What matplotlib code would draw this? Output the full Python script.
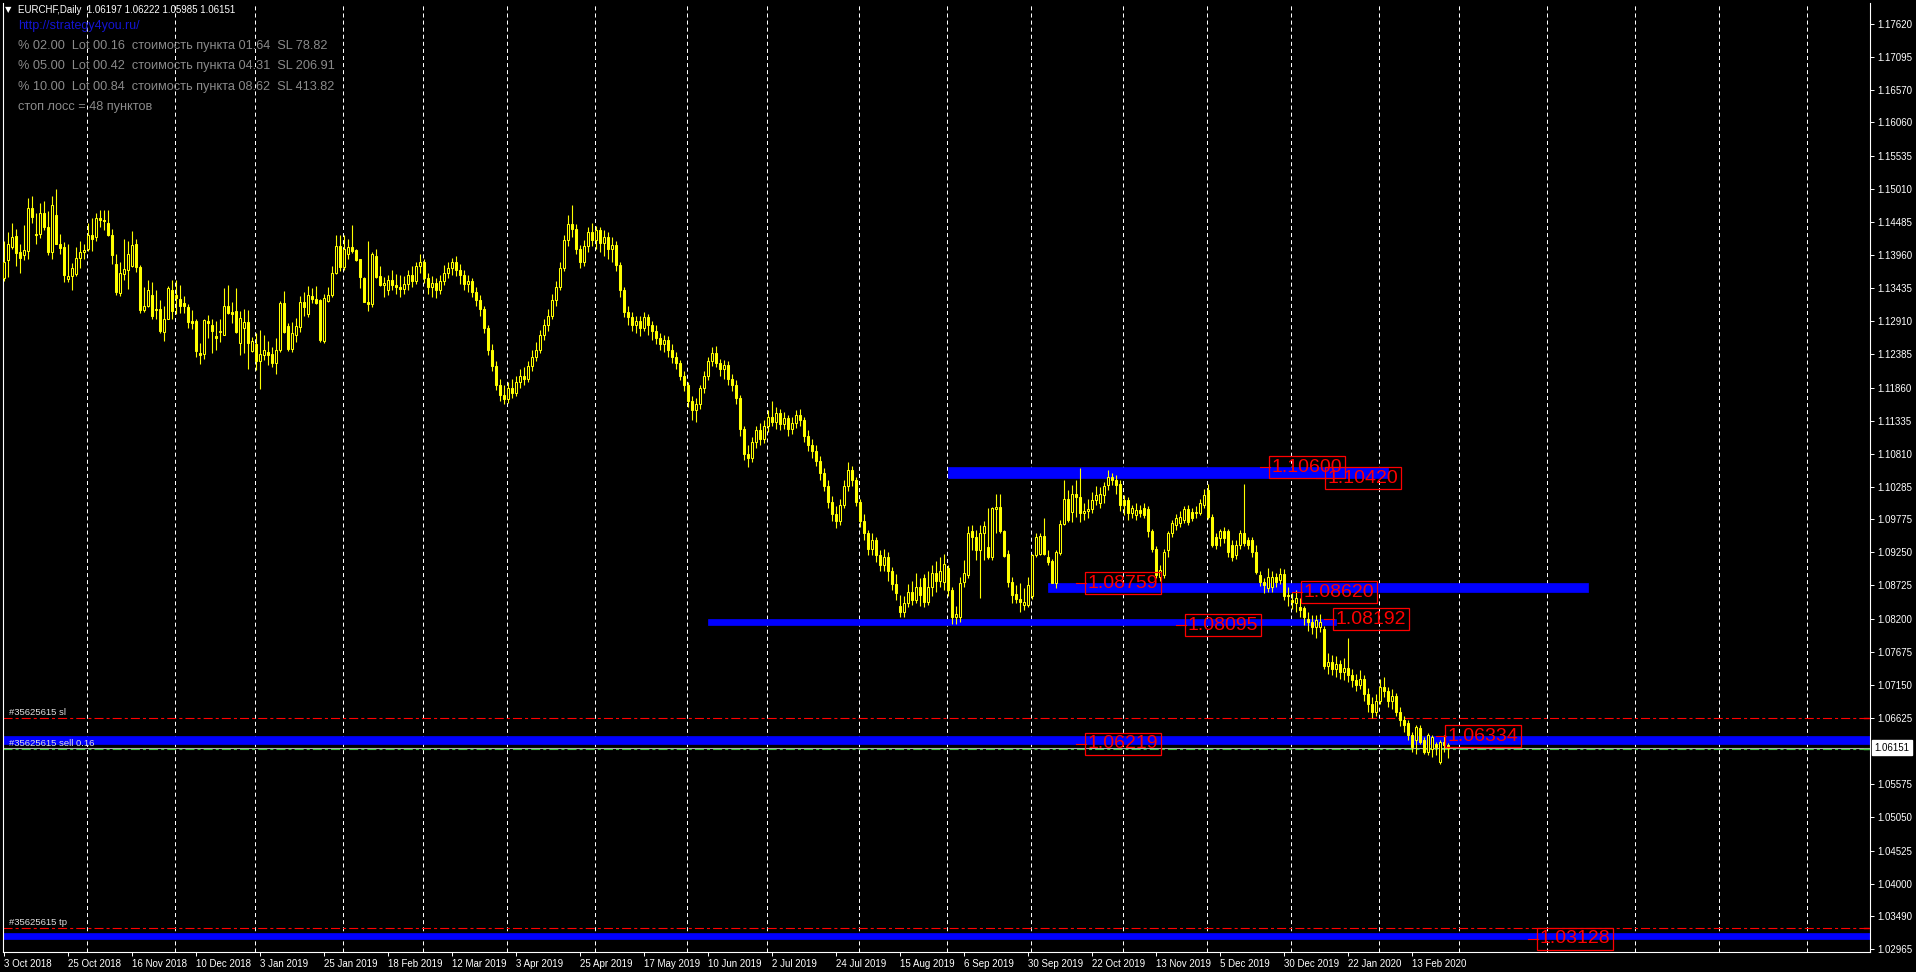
import matplotlib
matplotlib.use("Agg")
import matplotlib.pyplot as plt
from matplotlib.patches import Rectangle
from matplotlib.collections import LineCollection
from matplotlib import font_manager
import matplotlib.transforms as mtransforms
import pandas as pd

plt.rcParams['lines.scale_dashes'] = False

def has_font(name):
    try:
        font_manager.findfont(font_manager.FontProperties(family=name), fallback_to_default=False)
        return True
    except Exception:
        return False

BASE = 'Liberation Sans'
NARROW = 'Liberation Sans Narrow' if has_font('Liberation Sans Narrow') else BASE

# ---------------- data (daily EURCHF, one value per bar) ----------------
opens = [1.1359,1.1388,1.1409,1.1426,1.1400,1.1396,1.1403,1.1470,1.1429,1.1430,
         1.1463,1.1441,1.1401,1.1460,1.1414,1.1409,1.1358,1.1363,1.1366,1.1392,
         1.1401,1.1405,1.1427,1.1425,1.1454,1.1452,1.1446,1.1428,1.1382,1.1336,
         1.1366,1.1373,1.1378,1.1413,1.1377,1.1309,1.1315,1.1333,1.1310,1.1310,
         1.1274,1.1295,1.1341,1.1332,1.1327,1.1320,1.1313,1.1291,1.1291,1.1240,
         1.1239,1.1291,1.1285,1.1267,1.1274,1.1270,1.1315,1.1305,1.1308,1.1256,
         1.1281,1.1290,1.1244,1.1255,1.1228,1.1238,1.1243,1.1239,1.1225,1.1246,
         1.1320,1.1283,1.1247,1.1270,1.1282,1.1321,1.1302,1.1331,1.1326,1.1324,
         1.1260,1.1323,1.1332,1.1367,1.1411,1.1377,1.1398,1.1409,1.1404,1.1389,
         1.1360,1.1322,1.1319,1.1395,1.1363,1.1348,1.1341,1.1357,1.1349,1.1346,
         1.1342,1.1350,1.1365,1.1355,1.1378,1.1385,1.1360,1.1345,1.1352,1.1340,
         1.1355,1.1368,1.1375,1.1385,1.1372,1.1365,1.1350,1.1355,1.1338,1.1325,
         1.1310,1.1280,1.1245,1.1220,1.1190,1.1175,1.1168,1.1185,1.1178,1.1195,
         1.1205,1.1200,1.1220,1.1235,1.1245,1.1270,1.1285,1.1300,1.1325,1.1345,
         1.1375,1.1420,1.1445,1.1438,1.1405,1.1385,1.1410,1.1432,1.1420,1.1435,
         1.1415,1.1425,1.1405,1.1412,1.1380,1.1340,1.1305,1.1298,1.1285,1.1292,
         1.1280,1.1298,1.1285,1.1275,1.1265,1.1255,1.1262,1.1245,1.1235,1.1225,
         1.1205,1.1190,1.1165,1.1150,1.1160,1.1185,1.1205,1.1228,1.1240,1.1225,
         1.1215,1.1222,1.1200,1.1190,1.1170,1.1120,1.1080,1.1075,1.1100,1.1118,
         1.1105,1.1125,1.1140,1.1132,1.1145,1.1128,1.1138,1.1120,1.1130,1.1142,
         1.1135,1.1110,1.1095,1.1085,1.1070,1.1050,1.1030,1.1005,1.0985,1.0975,
         1.1000,1.1030,1.1055,1.1040,1.1005,1.0975,1.0955,1.0930,1.0945,1.0920,
         1.0905,1.0918,1.0895,1.0875,1.0840,1.0830,1.0845,1.0862,1.0850,1.0870,
         1.0885,1.0846,1.0870,1.0892,1.0880,1.0878,1.0900,1.0865,1.0823,1.0823,
         1.0878,1.0889,1.0958,1.0950,1.0929,1.0955,1.0934,1.0918,1.0993,1.0996,
         1.0958,1.0922,1.0878,1.0859,1.0851,1.0841,1.0841,1.0855,1.0921,1.0923,
         1.0951,1.0918,1.0911,1.0877,1.0924,1.0970,1.1009,1.0989,1.1017,1.1012,
         1.0987,1.0990,1.0993,1.1008,1.1003,1.1016,1.1032,1.1045,1.1040,1.1034,
         1.1008,1.1008,1.0987,1.0984,1.0992,1.0995,1.0993,1.0958,1.0931,1.0886,
         1.0889,1.0929,1.0955,1.0968,1.0971,1.0976,1.0993,1.0989,1.0987,1.0988,
         1.1000,1.1024,1.0981,1.0950,1.0947,1.0958,1.0958,1.0937,1.0921,1.0937,
         1.0956,1.0944,1.0944,1.0926,1.0889,1.0878,1.0868,1.0870,1.0886,1.0881,
         1.0891,1.0857,1.0849,1.0844,1.0839,1.0836,1.0820,1.0815,1.0807,1.0807,
         1.0804,1.0745,1.0752,1.0740,1.0748,1.0735,1.0742,1.0730,1.0722,1.0715,
         1.0725,1.0700,1.0685,1.0672,1.0690,1.0712,1.0705,1.0690,1.0698,1.0672,
         1.0660,1.0654,1.0636,1.0627,1.0646,1.0627,1.0609,1.0614,1.0622,1.0593,
         1.0625,1.06197]
highs = [1.1419,1.1433,1.1447,1.1437,1.1414,1.1443,1.1487,1.1490,1.1463,1.1478,
         1.1481,1.1466,1.1490,1.1500,1.1429,1.1417,1.1414,1.1384,1.1408,1.1418,
         1.1413,1.1447,1.1454,1.1462,1.1468,1.1468,1.1468,1.1437,1.1398,1.1385,
         1.1422,1.1419,1.1434,1.1421,1.1380,1.1346,1.1356,1.1353,1.1341,1.1324,
         1.1316,1.1347,1.1356,1.1356,1.1348,1.1331,1.1318,1.1309,1.1295,1.1257,
         1.1295,1.1301,1.1294,1.1291,1.1295,1.1343,1.1348,1.1321,1.1343,1.1308,
         1.1311,1.1309,1.1266,1.1273,1.1277,1.1269,1.1259,1.1251,1.1265,1.1323,
         1.1339,1.1289,1.1290,1.1296,1.1331,1.1338,1.1347,1.1344,1.1347,1.1327,
         1.1335,1.1346,1.1378,1.1427,1.1427,1.1427,1.1422,1.1443,1.1406,1.1390,
         1.1361,1.1418,1.1400,1.1405,1.1379,1.1361,1.1364,1.1372,1.1366,1.1365,
         1.1362,1.1372,1.1378,1.1385,1.1398,1.1390,1.1368,1.1362,1.1360,1.1365,
         1.1380,1.1385,1.1392,1.1395,1.1382,1.1372,1.1365,1.1360,1.1345,1.1332,
         1.1315,1.1285,1.1255,1.1228,1.1200,1.1190,1.1195,1.1200,1.1205,1.1215,
         1.1218,1.1228,1.1245,1.1258,1.1278,1.1295,1.1310,1.1335,1.1355,1.1385,
         1.1428,1.1460,1.1475,1.1445,1.1412,1.1420,1.1440,1.1446,1.1442,1.1440,
         1.1435,1.1432,1.1425,1.1418,1.1385,1.1345,1.1315,1.1305,1.1300,1.1300,
         1.1305,1.1302,1.1292,1.1285,1.1272,1.1270,1.1268,1.1255,1.1242,1.1230,
         1.1212,1.1195,1.1172,1.1170,1.1190,1.1212,1.1235,1.1250,1.1252,1.1232,
         1.1230,1.1228,1.1208,1.1198,1.1175,1.1125,1.1095,1.1108,1.1125,1.1130,
         1.1135,1.1150,1.1165,1.1155,1.1152,1.1148,1.1142,1.1140,1.1150,1.1152,
         1.1140,1.1118,1.1105,1.1095,1.1078,1.1058,1.1040,1.1015,1.0998,1.1010,
         1.1040,1.1068,1.1062,1.1045,1.1010,1.0985,1.0960,1.0955,1.0950,1.0928,
         1.0930,1.0925,1.0902,1.0890,1.0858,1.0855,1.0875,1.0880,1.0892,1.0885,
         1.0890,1.0895,1.0905,1.0912,1.0918,1.0923,1.0905,1.0870,1.0840,1.0886,
         1.0913,1.0966,1.0968,1.0960,1.0968,1.0975,1.0995,1.0997,1.1018,1.1018,
         1.0960,1.0929,1.0886,1.0873,1.0876,1.0868,1.0886,1.0923,1.0955,1.0955,
         1.0979,1.0929,1.0915,1.0929,1.0976,1.1040,1.1024,1.1032,1.1040,1.1058,
         1.1003,1.1010,1.1020,1.1030,1.1028,1.1037,1.1056,1.1050,1.1048,1.1040,
         1.1016,1.1012,1.1000,1.1003,1.1000,1.1003,1.0998,1.0962,1.0935,1.0905,
         1.0930,1.0958,1.0976,1.0985,1.0990,1.0998,1.1000,1.0995,1.0998,1.1010,
         1.1025,1.1034,1.0985,1.0955,1.0962,1.0965,1.0962,1.0945,1.0945,1.0960,
         1.1034,1.0950,1.0950,1.0937,1.0895,1.0885,1.0900,1.0895,1.0892,1.0900,
         1.0898,1.0870,1.0860,1.0865,1.0853,1.0840,1.0830,1.0825,1.0825,1.0828,
         1.0808,1.0765,1.0762,1.0760,1.0755,1.0758,1.0789,1.0740,1.0732,1.0738,
         1.0730,1.0710,1.0695,1.0700,1.0725,1.0728,1.0712,1.0708,1.0702,1.0680,
         1.0665,1.0660,1.0640,1.0651,1.0651,1.0633,1.0638,1.0635,1.0625,1.0627,
         1.0635,1.06222]
lows = [1.1355,1.1361,1.1406,1.1378,1.1368,1.1388,1.1390,1.1447,1.1413,1.1423,
        1.1435,1.1396,1.1390,1.1413,1.1398,1.1353,1.1353,1.1340,1.1363,1.1376,
        1.1389,1.1403,1.1403,1.1419,1.1441,1.1435,1.1426,1.1381,1.1332,1.1331,
        1.1356,1.1342,1.1377,1.1369,1.1304,1.1306,1.1314,1.1295,1.1294,1.1273,
        1.1260,1.1294,1.1294,1.1302,1.1304,1.1304,1.1280,1.1279,1.1235,1.1224,
        1.1232,1.1265,1.1240,1.1246,1.1258,1.1269,1.1303,1.1288,1.1273,1.1237,
        1.1240,1.1215,1.1243,1.1214,1.1183,1.1230,1.1222,1.1218,1.1208,1.1243,
        1.1272,1.1244,1.1243,1.1258,1.1274,1.1299,1.1298,1.1320,1.1319,1.1258,
        1.1257,1.1322,1.1329,1.1366,1.1371,1.1372,1.1389,1.1399,1.1387,1.1344,
        1.1321,1.1308,1.1314,1.1360,1.1347,1.1330,1.1332,1.1340,1.1335,1.1330,
        1.1335,1.1340,1.1345,1.1350,1.1368,1.1352,1.1335,1.1330,1.1328,1.1335,
        1.1348,1.1360,1.1365,1.1362,1.1350,1.1340,1.1338,1.1330,1.1315,1.1300,
        1.1272,1.1238,1.1212,1.1182,1.1165,1.1160,1.1162,1.1170,1.1172,1.1185,
        1.1190,1.1195,1.1212,1.1228,1.1240,1.1262,1.1275,1.1295,1.1315,1.1340,
        1.1370,1.1410,1.1425,1.1398,1.1375,1.1378,1.1400,1.1410,1.1405,1.1400,
        1.1395,1.1390,1.1385,1.1370,1.1330,1.1298,1.1285,1.1275,1.1272,1.1268,
        1.1275,1.1270,1.1262,1.1255,1.1245,1.1242,1.1235,1.1225,1.1215,1.1198,
        1.1180,1.1155,1.1135,1.1132,1.1152,1.1178,1.1198,1.1220,1.1218,1.1205,
        1.1200,1.1190,1.1180,1.1160,1.1110,1.1072,1.1060,1.1068,1.1090,1.1095,
        1.1098,1.1115,1.1125,1.1120,1.1118,1.1120,1.1110,1.1112,1.1122,1.1125,
        1.1100,1.1085,1.1075,1.1062,1.1040,1.1022,1.0995,1.0975,1.0964,1.0968,
        1.0995,1.1022,1.1030,1.0998,1.0965,1.0945,1.0920,1.0920,1.0910,1.0895,
        1.0895,1.0880,1.0865,1.0850,1.0822,1.0822,1.0838,1.0842,1.0845,1.0840,
        1.0838,1.0842,1.0855,1.0862,1.0870,1.0865,1.0855,1.0812,1.0812,1.0815,
        1.0870,1.0885,1.0929,1.0913,1.0852,1.0913,1.0915,1.0913,1.0955,1.0955,
        1.0918,1.0870,1.0844,1.0844,1.0831,1.0834,1.0839,1.0851,1.0918,1.0921,
        1.0921,1.0905,1.0876,1.0868,1.0921,1.0968,1.0973,1.0973,1.0981,1.0973,
        1.0976,1.0979,1.0987,1.1000,1.0995,1.1003,1.1024,1.1032,1.1018,1.0990,
        1.0984,1.0976,1.0979,1.0976,1.0981,1.0979,1.0950,1.0926,1.0884,1.0880,
        1.0885,1.0918,1.0950,1.0960,1.0965,1.0972,1.0968,1.0975,1.0979,1.0984,
        1.0995,1.0978,1.0933,1.0930,1.0935,1.0940,1.0918,1.0912,1.0915,1.0930,
        1.0935,1.0930,1.0918,1.0890,1.0872,1.0860,1.0862,1.0862,1.0870,1.0875,
        1.0850,1.0840,1.0835,1.0830,1.0822,1.0810,1.0800,1.0795,1.0790,1.0798,
        1.0740,1.0732,1.0730,1.0728,1.0725,1.0722,1.0720,1.0712,1.0705,1.0708,
        1.0690,1.0672,1.0662,1.0665,1.0685,1.0695,1.0680,1.0676,1.0665,1.0650,
        1.0640,1.0628,1.0609,1.0606,1.0622,1.0606,1.0604,1.0601,1.0604,1.0590,
        1.0609,1.05985]
closes = [1.1385,1.1414,1.1425,1.1399,1.1392,1.1404,1.1470,1.1456,1.1427,1.1463,
          1.1441,1.1401,1.1476,1.1414,1.1407,1.1365,1.1362,1.1376,1.1392,1.1401,
          1.1404,1.1427,1.1422,1.1455,1.1451,1.1450,1.1427,1.1396,1.1338,1.1367,
          1.1374,1.1398,1.1412,1.1377,1.1309,1.1316,1.1340,1.1300,1.1309,1.1276,
          1.1295,1.1343,1.1307,1.1328,1.1315,1.1315,1.1290,1.1289,1.1244,1.1238,
          1.1293,1.1289,1.1276,1.1265,1.1275,1.1315,1.1304,1.1302,1.1274,1.1297,
          1.1290,1.1257,1.1259,1.1228,1.1239,1.1246,1.1238,1.1225,1.1246,1.1320,
          1.1274,1.1247,1.1272,1.1283,1.1321,1.1314,1.1332,1.1326,1.1320,1.1261,
          1.1328,1.1332,1.1368,1.1411,1.1377,1.1405,1.1409,1.1402,1.1388,1.1361,
          1.1322,1.1318,1.1398,1.1361,1.1348,1.1352,1.1357,1.1349,1.1346,1.1342,
          1.1350,1.1365,1.1355,1.1378,1.1385,1.1360,1.1345,1.1352,1.1340,1.1355,
          1.1368,1.1375,1.1385,1.1372,1.1365,1.1350,1.1355,1.1338,1.1325,1.1310,
          1.1280,1.1245,1.1220,1.1190,1.1175,1.1168,1.1185,1.1178,1.1195,1.1205,
          1.1200,1.1220,1.1235,1.1245,1.1270,1.1285,1.1300,1.1325,1.1345,1.1375,
          1.1420,1.1445,1.1438,1.1405,1.1385,1.1410,1.1432,1.1420,1.1435,1.1415,
          1.1425,1.1405,1.1412,1.1380,1.1340,1.1305,1.1298,1.1285,1.1292,1.1280,
          1.1298,1.1285,1.1275,1.1265,1.1255,1.1262,1.1245,1.1235,1.1225,1.1205,
          1.1190,1.1165,1.1150,1.1160,1.1185,1.1205,1.1228,1.1240,1.1225,1.1215,
          1.1222,1.1200,1.1190,1.1170,1.1120,1.1080,1.1075,1.1100,1.1118,1.1105,
          1.1125,1.1140,1.1132,1.1145,1.1128,1.1138,1.1120,1.1130,1.1142,1.1135,
          1.1110,1.1095,1.1085,1.1070,1.1050,1.1030,1.1005,1.0985,1.0975,1.1000,
          1.1030,1.1055,1.1040,1.1005,1.0975,1.0955,1.0930,1.0945,1.0920,1.0905,
          1.0918,1.0895,1.0875,1.0860,1.0830,1.0845,1.0862,1.0850,1.0870,1.0858,
          1.0846,1.0870,1.0892,1.0880,1.0895,1.0907,1.0865,1.0823,1.0828,1.0877,
          1.0892,1.0955,1.0950,1.0929,1.0955,1.0966,1.0918,1.0995,1.0997,1.0958,
          1.0919,1.0878,1.0857,1.0851,1.0847,1.0847,1.0873,1.0921,1.0949,1.0951,
          1.0923,1.0910,1.0877,1.0925,1.0970,1.1009,1.0976,1.1017,1.1012,1.0987,
          1.0990,1.0993,1.1008,1.1016,1.1018,1.1030,1.1045,1.1040,1.1032,1.1000,
          1.1000,1.0987,1.0995,1.0992,1.0987,1.0984,1.0958,1.0931,1.0889,1.0897,
          1.0926,1.0955,1.0971,1.0979,1.0981,1.0993,1.0973,1.0979,1.0989,1.1003,
          1.1016,1.0981,1.0937,1.0937,1.0958,1.0947,1.0926,1.0918,1.0937,1.0955,
          1.0939,1.0937,1.0926,1.0894,1.0878,1.0873,1.0886,1.0886,1.0878,1.0891,
          1.0855,1.0855,1.0847,1.0852,1.0834,1.0823,1.0815,1.0807,1.0818,1.0815,
          1.0745,1.0752,1.0740,1.0748,1.0735,1.0742,1.0730,1.0722,1.0715,1.0725,
          1.0700,1.0685,1.0672,1.0690,1.0712,1.0705,1.0690,1.0698,1.0672,1.0660,
          1.0651,1.0636,1.0617,1.0649,1.0625,1.0609,1.0635,1.0633,1.0617,1.0625,
          1.0619,1.06151]

first_date = '2018-10-03'
holidays = ['2018-12-25', '2019-01-01', '2019-12-25', '2020-01-01']
date_tick_labels = ["3 Oct 2018", "25 Oct 2018", "16 Nov 2018", "10 Dec 2018", "3 Jan 2019",
                    "25 Jan 2019", "18 Feb 2019", "12 Mar 2019", "3 Apr 2019", "25 Apr 2019",
                    "17 May 2019", "10 Jun 2019", "2 Jul 2019", "24 Jul 2019", "15 Aug 2019",
                    "6 Sep 2019", "30 Sep 2019", "22 Oct 2019", "13 Nov 2019", "5 Dec 2019",
                    "30 Dec 2019", "22 Jan 2020", "13 Feb 2020"]
price_ticks = [1.17620, 1.17095, 1.16570, 1.16060, 1.15535, 1.15010, 1.14485, 1.13960,
               1.13435, 1.12910, 1.12385, 1.11860, 1.11335, 1.10810, 1.10285, 1.09775,
               1.09250, 1.08725, 1.08200, 1.07675, 1.07150, 1.06625, 1.05575, 1.05050,
               1.04525, 1.04000, 1.03490, 1.02965]

zone_low = [1.10420, 1.08620, 1.08095, 1.06219, 1.03128]
zone_high = [1.10600, 1.08759, 1.08192, 1.06334, 1.03215]
zone_start = [236, 261, 176, -1, -1]
zone_end = [346, 396, 333, 470, 470]

level_labels = ["1.10600", "1.10420", "1.08759", "1.08620", "1.08095", "1.08192",
                "1.06219", "1.06334", "1.03128"]
level_prices = [1.10600, 1.10420, 1.08759, 1.08620, 1.08095, 1.08192,
                1.06219, 1.06334, 1.03128]

bid = 1.06151
order_open = 1.06128
order_sl = 1.06625
order_tp = 1.03298
ohlc_header = "EURCHF,Daily  1.06197 1.06222 1.05985 1.06151"
info_lines = ["% 02.00  Lot 00.16  стоимость пункта 01.64  SL 78.82",
              "% 05.00  Lot 00.42  стоимость пункта 04.31  SL 206.91",
              "% 10.00  Lot 00.84  стоимость пункта 08.62  SL 413.82",
              "стоп лосс = 48 пунктов"]

# ---------------- layout ----------------
W, H, DPI = 1916, 972, 100
L, R, T, B = 3, 1870, 3, 952
BAR_PX = 4.0
YEL = '#ffff00'
BLUE = '#0000ff'
RED = '#ff0000'
GREEN = '#3cc83c'

fig = plt.figure(figsize=(W / DPI, H / DPI), dpi=DPI, facecolor='black')
ax = fig.add_axes([L / W, 1 - B / H, (R - L) / W, (B - T) / H])
ax.set_facecolor('black')

x_left = (L - 4) / BAR_PX
ax.set_xlim(x_left, x_left + (R - L) / BAR_PX)
PX_PER_PRICE = 6312.0
ax.set_ylim(1.17620 - (B - 24) / PX_PER_PRICE, 1.17620 + (24 - T) / PX_PER_PRICE)

def px_to_bar(px):
    return (px - 4) / BAR_PX

# month separators
dates = pd.bdate_range(first_date, periods=480)
dates = dates[~dates.isin(pd.to_datetime(holidays))]
months = pd.Series(dates.month)
starts = [i for i in range(1, len(dates)) if months[i] != months[i - 1]]
for i in starts:
    ax.axvline(i - 0.25, color='white', lw=0.72, ls=(0, (2.9, 2.2)), zorder=1)

# zones
for lo, hi, s, e in zip(zone_low, zone_high, zone_start, zone_end):
    ax.add_patch(Rectangle((s, lo), e - s, hi - lo, facecolor=BLUE, edgecolor=BLUE,
                           lw=0.5, zorder=2))

# order lines
dashdot = (0, (6.5, 2.2, 2.2, 2.2))
ax.axhline(order_sl, color=RED, lw=0.8, ls=dashdot, zorder=2)
ax.axhline(order_tp, color=RED, lw=0.8, ls=dashdot, zorder=2)
ax.axhline(bid, color='#b0b0b0', lw=0.8, zorder=2)
ax.axhline(order_open, color=GREEN, lw=0.8, ls=dashdot, zorder=2)

# candles
segs = [[(i, ll), (i, hh)] for i, (hh, ll) in enumerate(zip(highs, lows))]
ax.add_collection(LineCollection(segs, colors=YEL, linewidths=0.8, zorder=3))
for i, (o, c) in enumerate(zip(opens, closes)):
    top, bot = max(o, c), min(o, c)
    hgt = max(top - bot, 0.00002)
    fc = 'black' if c > o else YEL
    ax.add_patch(Rectangle((i - 0.25, bot), 0.5, hgt, facecolor=fc, edgecolor=YEL,
                           lw=0.75, zorder=4))

# level labels (red boxes)
label_px = [1270, 1326, 1086, 1302, 1186, 1334, 1086, 1446, 1538]
fs_lab = 17 if NARROW != BASE else 14
for txt, p, px in zip(level_labels, level_prices, label_px):
    xb = px_to_bar(px)
    ax.plot([xb - 2.5, xb], [p, p], color=RED, lw=0.8, zorder=6)
    ax.text(xb + 0.4, p, txt, color=RED, fontsize=fs_lab, family=NARROW, ha='left', va='center',
            zorder=7, bbox=dict(boxstyle='square,pad=0.13', fc='none', ec=RED, lw=0.9))

# order labels
for txt, lvl, off in [("#35625615 sl", order_sl, 0.5), ("#35625615 sell 0.16", order_open, 1.0),
                      ("#35625615 tp", order_tp, 0.5)]:
    ax.annotate(txt, xy=(px_to_bar(9), lvl), xytext=(0, off), textcoords='offset points',
                color='#e0e0e0', fontsize=6.8, family=BASE, ha='left', va='bottom', zorder=8)

# axes styling
for sp in ['left', 'right', 'bottom']:
    ax.spines[sp].set_color('white')
    ax.spines[sp].set_linewidth(0.8)
ax.spines['top'].set_visible(False)

ax.yaxis.tick_right()
ax.set_yticks(price_ticks)
ax.set_yticklabels([f"{v:.5f}" for v in price_ticks])
ax.tick_params(axis='y', direction='out', length=3, width=0.7, colors='white', labelsize=7, pad=2)
ax.set_xticks([16 * k for k in range(len(date_tick_labels))])
ax.set_xticklabels(date_tick_labels)
ax.tick_params(axis='x', direction='out', length=3, width=0.7, colors='white', labelsize=7, pad=2)
for lab in ax.get_xticklabels() + ax.get_yticklabels():
    lab.set_family(BASE)
for lab in ax.get_xticklabels():
    lab.set_ha('left')

# current price label on the price scale
trans = mtransforms.blended_transform_factory(ax.transAxes, ax.transData)
ax.text(1.0025, bid, "1.06151", transform=trans, color='black', fontsize=7, family=BASE,
        ha='left', va='center', zorder=11, clip_on=False,
        bbox=dict(boxstyle='square,pad=0.25', fc='white', ec='white'))
for lvl, col in [(order_sl, RED), (order_open, GREEN), (order_tp, RED)]:
    ax.plot([0.9968, 0.9995], [lvl, lvl], transform=trans, color=col, lw=1.0, zorder=9)

# header texts
fig.text(5 / W, 1 - 10 / H, "▼", color='white', fontsize=6, family='DejaVu Sans', va='center')
fig.text(18 / W, 1 - 10 / H, ohlc_header, color='white', fontsize=7, family=BASE, va='center')
fig.text(18 / W, 1 - 26 / H, "http://strategy4you.ru/", color='#1414d2', fontsize=9,
         family=BASE, va='center')
for k, line in enumerate(info_lines):
    fig.text(18 / W, 1 - (46 + 20.3 * k) / H, line, color='#8a8a8a', fontsize=9.2,
             family=BASE, va='center')

fig.savefig('out.png', dpi=DPI, facecolor='black')
